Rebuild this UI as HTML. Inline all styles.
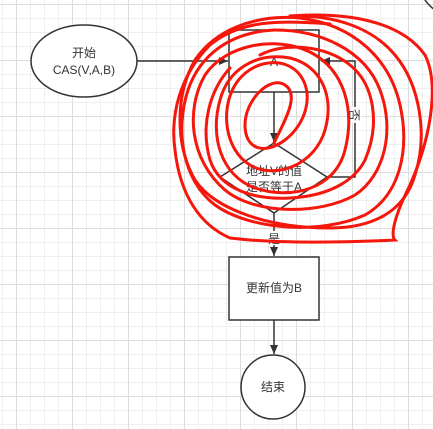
<!DOCTYPE html>
<html><head><meta charset="utf-8"><style>
html,body{margin:0;padding:0;background:#fff;}
svg{display:block;}
text{font-family:"Liberation Sans","Noto Sans CJK SC",sans-serif;font-size:12px;fill:#333;}
</style></head><body>
<svg width="433" height="429" viewBox="0 0 433 429" xmlns="http://www.w3.org/2000/svg">
<defs>
<pattern id="g" x="2" y="4" width="14" height="14" patternUnits="userSpaceOnUse">
<path d="M0.5 0V14M0 0.5H14" stroke="#efefef" stroke-width="1" fill="none"/>
</pattern>
<pattern id="G" x="16" y="4" width="56" height="56" patternUnits="userSpaceOnUse">
<path d="M0.5 0V56M0 0.5H56" stroke="#dddddd" stroke-width="1" fill="none"/>
</pattern>
<marker id="a" markerWidth="10" markerHeight="10" refX="9" refY="5" orient="auto" markerUnits="userSpaceOnUse">
<path d="M0,1 L9,5 L0,9 Z" fill="#333"/>
</marker>
</defs>
<rect width="433" height="429" fill="url(#g)"/>
<rect width="433" height="429" fill="url(#G)"/>
<circle cx="455" cy="-20" r="36" fill="none" stroke="#333" stroke-width="1.5"/>
<g stroke="#333" stroke-width="1.5" fill="none">
<ellipse cx="84" cy="61" rx="53" ry="36" fill="#fff"/>
<line x1="137" y1="61" x2="228" y2="61" marker-end="url(#a)"/>
<rect x="229" y="30" width="90" height="62" fill="#fff"/>
<line x1="274" y1="92" x2="274" y2="142" marker-end="url(#a)"/>
<polygon points="274,143 327,177 274,213 220,177" fill="#fff"/>
<polyline points="327,177 355,177 355,61 321,61" marker-end="url(#a)"/>
<line x1="274" y1="213" x2="274" y2="256" marker-end="url(#a)"/>
<rect x="229" y="257" width="90" height="63" fill="#fff"/>
<line x1="274" y1="320" x2="274" y2="354" marker-end="url(#a)"/>
<circle cx="273" cy="387" r="32" fill="#fff"/>
</g>
<rect x="348" y="107" width="14" height="16" fill="#fff"/>
<rect x="266" y="231" width="16" height="14" fill="#fff"/>
<text x="84" y="57" text-anchor="middle">开始</text>
<text x="84" y="74" text-anchor="middle">CAS(V,A,B)</text>
<text x="274" y="66" text-anchor="middle">A</text>
<text x="274" y="175" text-anchor="middle">地址V的值</text>
<text x="274" y="191" text-anchor="middle">是否等于A</text>
<text x="355" y="120" text-anchor="middle" transform="rotate(90 355 115)">否</text>
<text x="274" y="243" text-anchor="middle">是</text>
<text x="274" y="292" text-anchor="middle">更新值为B</text>
<text x="273" y="391" text-anchor="middle">结束</text>
<g stroke="#f5160c" stroke-width="3" fill="none" stroke-linecap="round">
<path d="M274,143 C285,120 300,95 285,85 C270,75 245,100 245,125 C245,150 265,155 285,140 C305,125 315,95 300,75 C285,55 250,60 235,85 C220,110 225,150 250,165 C275,180 315,165 325,130 C335,95 320,65 290,58"/>
<path d="M290,58 C255,52 228,70 220,100 C210,135 220,175 255,188 C290,200 335,190 345,150 C355,110 345,70 310,52 C275,35 225,45 205,75 C185,110 190,160 225,190 C255,215 320,215 355,195 C385,175 395,130 380,90 C365,50 320,30 275,30"/>
<path d="M275,30 C230,32 200,55 188,90 C175,130 182,180 215,205 C250,230 320,235 365,215 C400,195 410,150 400,105 C390,60 355,25 300,18 C255,14 215,30 195,60 C175,95 175,145 195,180 C215,210 270,228 330,228 C375,228 405,210 415,175 C428,135 420,85 395,55 C370,25 330,15 290,16"/>
<path d="M290,16 C345,12 400,20 425,55 C440,85 430,140 410,185 C395,215 390,235 395,240 C330,243 270,243 230,238 C200,225 180,195 175,150 C170,115 180,75 210,45 C240,20 280,20 330,24"/>
<path d="M230,68 C210,90 200,125 210,160 C220,190 255,200 290,198 C330,196 355,180 365,160 C380,125 375,85 350,65 C325,45 285,42 260,55"/>
</g>
</svg>
</body></html>
